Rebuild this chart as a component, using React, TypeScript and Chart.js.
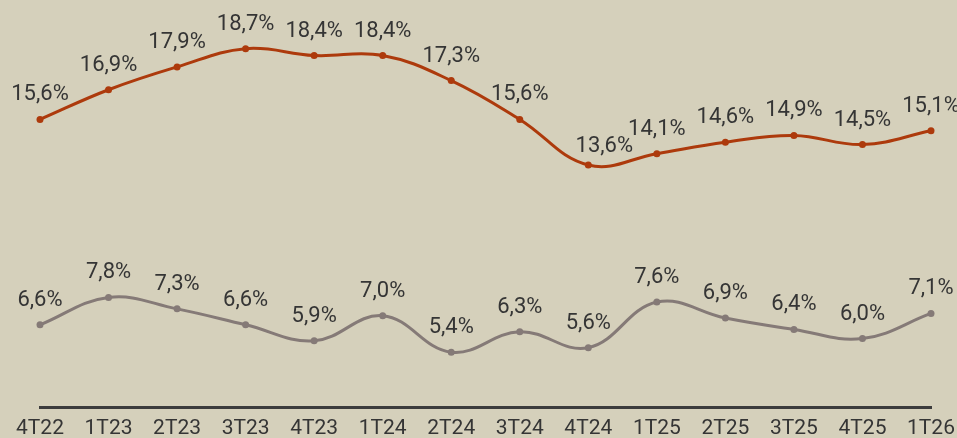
import React, { useEffect, useRef } from "react";
import { Chart, registerables } from "chart.js";

Chart.register(...registerables);

const categories = ["4T22", "1T23", "2T23", "3T23", "4T23", "1T24", "2T24", "3T24", "4T24", "1T25", "2T25", "3T25", "4T25", "1T26"];
const seriesTop = [15.6, 16.9, 17.9, 18.7, 18.4, 18.4, 17.3, 15.6, 13.6, 14.1, 14.6, 14.9, 14.5, 15.1];
const seriesBottom = [6.6, 7.8, 7.3, 6.6, 5.9, 7.0, 5.4, 6.3, 5.6, 7.6, 6.9, 6.4, 6.0, 7.1];

const BG = "#d5d0bb";
const ORANGE = "#ad3a0c";
const GRAY = "#857a77";
const TEXT = "#353535";
const FONT = "Roboto, 'Noto Sans', sans-serif";

const fmt = (v: number) => v.toFixed(1).replace(".", ",") + "%";

const labelPlugin = {
  id: "pointLabels",
  afterDatasetsDraw(chart: any) {
    const ctx = chart.ctx;
    ctx.save();
    ctx.font = `22px ${FONT}`;
    ctx.fillStyle = TEXT;
    ctx.textAlign = "center";
    ctx.textBaseline = "alphabetic";
    chart.data.datasets.forEach((ds: any, di: number) => {
      const meta = chart.getDatasetMeta(di);
      meta.data.forEach((pt: any, i: number) => {
        let dx = 0;
        let dy = 19;
        // nudge the label at the local minimum of the top line
        if (di === 0 && i === 8) {
          dx = 16;
          dy = 13.5;
        }
        ctx.fillText(fmt(ds.data[i]), pt.x + dx, pt.y - dy);
      });
    });
    ctx.restore();
  },
};

export default function App() {
  const ref = useRef<HTMLCanvasElement>(null);
  useEffect(() => {
    if (!ref.current) return;
    const chart = new Chart(ref.current, {
      type: "line",
      data: {
        labels: categories,
        datasets: [
          {
            data: seriesTop,
            borderColor: ORANGE,
            backgroundColor: ORANGE,
            borderWidth: 3,
            pointRadius: 3.5,
            pointBorderWidth: 0,
            tension: 0.4,
          },
          {
            data: seriesBottom,
            borderColor: GRAY,
            backgroundColor: GRAY,
            borderWidth: 3,
            pointRadius: 3.5,
            pointBorderWidth: 0,
            tension: 0.4,
          },
        ],
      },
      options: {
        responsive: false,
        animation: false,
        layout: { padding: { left: 40, right: 26, top: 19, bottom: 0 } },
        plugins: { legend: { display: false }, tooltip: { enabled: false } },
        scales: {
          y: { display: false, min: 3, max: 20 },
          x: {
            offset: false,
            grid: { display: false },
            border: { display: true, color: "#3c3c3c", width: 3 },
            ticks: { color: TEXT, font: { family: FONT, size: 21 }, padding: 1, maxRotation: 0, autoSkip: false },
            afterFit: (scale: any) => {
              scale.height = 31;
              scale.paddingLeft = 0;
              scale.paddingRight = 0;
            },
          },
        },
      },
      plugins: [labelPlugin],
    });
    return () => chart.destroy();
  }, []);
  return (
    <div style={{ position: "fixed", left: 0, top: 0, width: 957, height: 438, background: BG }}>
      <canvas ref={ref} width={957} height={438} />
    </div>
  );
}
